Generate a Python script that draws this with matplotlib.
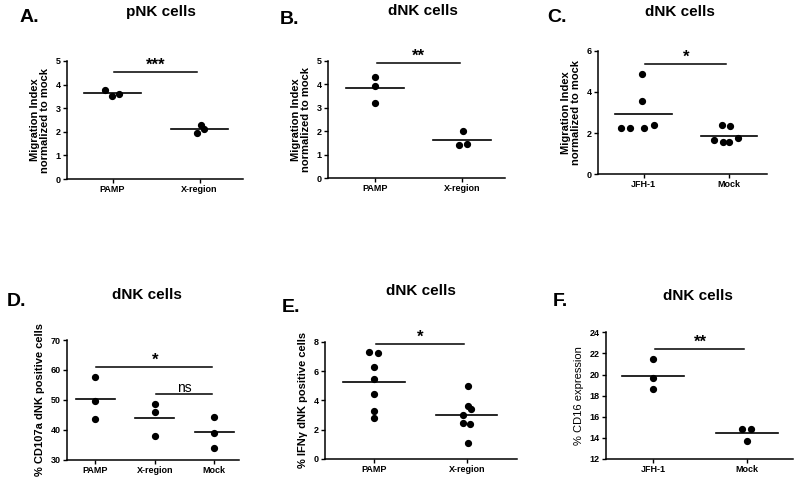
import matplotlib
matplotlib.use('Agg')
import matplotlib.pyplot as plt
import numpy as np

plt.rcParams['font.family'] = ['Liberation Sans', 'DejaVu Sans']

# A. pNK cells migration
a_groups = ['PAMP', 'X-region']
a_vals = [[3.78, 3.52, 3.60], [2.30, 1.95, 2.10]]
a_jit = [[-0.09, -0.01, 0.07], [0.01, -0.03, 0.05]]
a_sig = [(0, 1, 4.55, '***')]

# B. dNK cells migration
b_groups = ['PAMP', 'X-region']
b_vals = [[4.33, 3.95, 3.22], [2.00, 1.42, 1.47]]
b_jit = [[0, 0, 0], [0.01, -0.04, 0.05]]
b_sig = [(0, 1, 4.9, '**')]

# C. dNK cells migration, JFH-1 vs mock
c_groups = ['JFH-1', 'Mock']
c_vals = [[4.85, 3.57, 2.27, 2.25, 2.27, 2.40], [2.38, 2.33, 1.65, 1.55, 1.55, 1.77]]
c_jit = [[-0.02, -0.02, -0.26, -0.16, 0.01, 0.12], [-0.08, 0.02, -0.17, -0.07, 0.01, 0.11]]
c_sig = [(0, 1, 5.35, '*')]

# D. CD107a
d_groups = ['PAMP', 'X-region', 'Mock']
d_vals = [[57.7, 49.5, 43.5], [48.7, 45.8, 37.8], [44.3, 39.0, 34.0]]
d_jit = [[0, 0, 0], [0, 0, 0], [0, 0, 0]]
d_sig = [(0, 2, 61, '*'), (1, 2, 51.8, 'ns')]

# E. IFNg
e_groups = ['PAMP', 'X-region']
e_vals = [[7.27, 7.20, 6.25, 5.45, 4.40, 3.27, 2.80], [4.97, 3.58, 3.42, 2.97, 2.47, 2.38, 1.07]]
e_jit = [[-0.05, 0.04, 0, 0, 0, 0, 0], [0.01, 0.01, 0.05, -0.04, -0.04, 0.04, 0.01]]
e_sig = [(0, 1, 7.85, '*')]

# F. CD16
f_groups = ['JFH-1', 'Mock']
f_vals = [[21.45, 19.65, 18.6], [14.85, 14.85, 13.7]]
f_jit = [[0, 0, 0], [-0.05, 0.04, 0]]
f_sig = [(0, 1, 22.4, '**')]


def dotplot(ax, groups, vals, jit, sigs, ylim, yticks, ylabel, xlim, ylab_bold=True):
    for i, (v, j) in enumerate(zip(vals, jit)):
        ax.plot(i + np.array(j), v, 'o', color='black', ms=4.2)
        m = np.mean(v)
        ax.plot([i - 0.33, i + 0.33], [m, m], color='black', lw=1.2)
    for g1, g2, y, lab in sigs:
        ax.plot([g1 + 0.02, g2 - 0.03], [y, y], color='black', lw=1.1)
        if lab == 'ns':
            ax.annotate(lab, ((g1 + g2) / 2, y), xytext=(0, 1.5), textcoords='offset points',
                        ha='center', va='baseline', fontsize=10)
        else:
            ax.annotate(lab, ((g1 + g2) / 2, y), xytext=(0, 1.5), textcoords='offset points',
                        ha='center', va='baseline', fontsize=12, fontweight='bold')
    ax.set_xlim(xlim)
    ax.set_ylim(ylim)
    ax.set_yticks(yticks)
    ax.set_xticks(range(len(groups)))
    ax.set_xticklabels(groups, fontsize=6.5, fontweight='bold')
    for t in ax.get_yticklabels():
        t.set_fontsize(6.5)
        t.set_fontweight('bold')
    ax.set_ylabel(ylabel, fontsize=8, fontweight='bold' if ylab_bold else 'normal',
                  linespacing=1.0)
    for s in ['top', 'right']:
        ax.spines[s].set_visible(False)
    for s in ['left', 'bottom']:
        ax.spines[s].set_linewidth(1.1)
    ax.tick_params(length=3, width=1, pad=1.5)


fig = plt.figure(figsize=(8, 4.84), dpi=100)

ax_a = fig.add_axes([0.084, 0.630, 0.220, 0.244])
dotplot(ax_a, a_groups, a_vals, a_jit, a_sig, (0, 5), range(0, 6),
        'Migration Index\nnormalized to mock', (-0.52, 1.5))

ax_b = fig.add_axes([0.4096, 0.632, 0.2216, 0.242])
dotplot(ax_b, b_groups, b_vals, b_jit, b_sig, (0, 5), range(0, 6),
        'Migration Index\nnormalized to mock', (-0.54, 1.49))

ax_c = fig.add_axes([0.747, 0.640, 0.2116, 0.255])
dotplot(ax_c, c_groups, c_vals, c_jit, c_sig, (0, 6), range(0, 7, 2),
        'Migration Index\nnormalized to mock', (-0.54, 1.45))

ax_d = fig.add_axes([0.084, 0.0502, 0.215, 0.2473])
dotplot(ax_d, d_groups, d_vals, d_jit, d_sig, (30, 70), range(30, 71, 10),
        '% CD107a dNK positive cells', (-0.47, 2.42))

ax_e = fig.add_axes([0.406, 0.0517, 0.240, 0.2423])
dotplot(ax_e, e_groups, e_vals, e_jit, e_sig, (0, 8), range(0, 9, 2),
        '% IFN\u03b3 dNK positive cells', (-0.53, 1.54))

ax_f = fig.add_axes([0.7575, 0.0517, 0.234, 0.2617])
dotplot(ax_f, f_groups, f_vals, f_jit, f_sig, (12, 24), range(12, 25, 2),
        '% CD16 expression', (-0.5, 1.49), ylab_bold=False)

# panel letters and titles
letters = ['A.', 'B.', 'C.', 'D.', 'E.', 'F.']
letter_xy = [(20, 18), (280, 20), (547, 18), (7, 301), (282, 307), (553, 302)]
titles = ['pNK cells', 'dNK cells', 'dNK cells', 'dNK cells', 'dNK cells', 'dNK cells']
title_xy = [(161, 12), (423, 11), (680, 12), (147, 295), (421, 291), (698, 296)]
for lab, (x, y) in zip(letters, letter_xy):
    fig.text(x / 800, 1 - y / 484, lab, fontsize=14, fontweight='bold', ha='left', va='center')
for t, (x, y) in zip(titles, title_xy):
    fig.text(x / 800, 1 - y / 484, t, fontsize=11, fontweight='bold', ha='center', va='center')

fig.savefig('out.png', dpi=100)
